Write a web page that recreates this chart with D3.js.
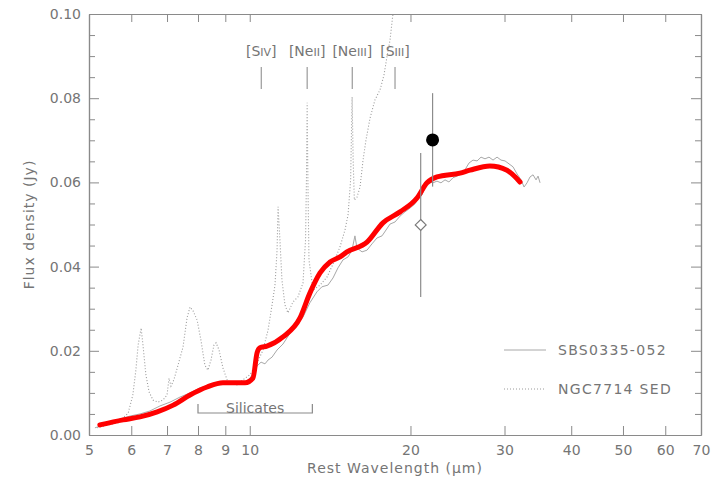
<!DOCTYPE html>
<html>
<head>
<meta charset="utf-8">
<script src="https://cdn.jsdelivr.net/npm/d3@7"></script>
<style>
  html, body { margin: 0; padding: 0; background: #fff; }
  svg { display: block; }
  text { font-family: "DejaVu Sans", sans-serif; fill: #757575; }
</style>
</head>
<body>
<svg id="chart" width="721" height="480"></svg>
<script>
// Rest-frame wavelength (µm) and flux density (Jy) samples

// SBS0335-052 IRS spectrum
const sbsWave = [5.13, 5.24, 5.47, 5.72, 5.97, 6.23, 6.50, 6.79, 7.09, 7.40, 7.73, 8.07, 8.42, 8.80, 9.18, 9.50, 9.80,
  10.01, 10.18, 10.32, 10.50, 10.68, 10.82, 11.01, 11.25, 11.54, 11.90, 12.21, 12.58, 12.96, 13.36, 13.65, 14.01,
  14.32, 14.63, 14.95, 15.28, 15.54, 15.74, 15.88, 16.23, 16.58, 16.94, 17.31, 17.69, 18.00, 18.31, 18.71, 19.12,
  19.53, 19.96, 20.39, 20.66, 21.02, 21.38, 21.66, 22.04, 22.42, 22.81, 23.21, 23.61, 24.02, 24.44, 24.87, 25.30,
  25.74, 26.19, 26.65, 27.11, 27.58, 28.06, 28.55, 29.05, 29.55, 30.07, 30.59, 31.12, 31.67, 32.22, 32.64, 33.06,
  33.49, 33.93, 34.37, 34.67, 34.97];
const sbsFlux = [0.0017, 0.0021, 0.0031, 0.0038, 0.0045, 0.0050, 0.0057, 0.0069, 0.0078, 0.0090, 0.0100, 0.0112, 0.0119, 0.0124, 0.0124, 0.0121, 0.0126,
  0.0135, 0.0150, 0.0164, 0.0173, 0.0169, 0.0178, 0.0185, 0.0202, 0.0216, 0.0242, 0.0259, 0.0280, 0.0314, 0.0340, 0.0352, 0.0356,
  0.0373, 0.0397, 0.0416, 0.0423, 0.0439, 0.0473, 0.0444, 0.0435, 0.0439, 0.0454, 0.0468, 0.0473, 0.0487, 0.0501, 0.0506, 0.0520,
  0.0530, 0.0539, 0.0549, 0.0561, 0.0570, 0.0596, 0.0603, 0.0599, 0.0603, 0.0599, 0.0606, 0.0601, 0.0611, 0.0615, 0.0620, 0.0630,
  0.0646, 0.0653, 0.0651, 0.0660, 0.0656, 0.0660, 0.0653, 0.0660, 0.0653, 0.0651, 0.0644, 0.0637, 0.0620, 0.0606, 0.0589, 0.0599,
  0.0613, 0.0618, 0.0606, 0.0615, 0.0599];

// NGC7714 template SED
const ngcWave = [5.18, 5.43, 5.67, 5.92, 6.04, 6.12, 6.18, 6.26, 6.31, 6.39, 6.48, 6.59, 6.73, 6.88, 7.00, 7.06, 7.12,
  7.21, 7.34, 7.50, 7.63, 7.73, 7.83, 7.97, 8.10, 8.24, 8.35, 8.46, 8.57, 8.65, 8.76, 8.91, 9.07, 9.22, 9.46, 9.71,
  10.01, 10.32, 10.59, 10.82, 11.01, 11.15, 11.25, 11.30, 11.39, 11.49, 11.64, 11.79, 12.05, 12.31, 12.58, 12.72,
  12.77, 12.81, 12.85, 12.91, 13.14, 13.54, 13.95, 14.38, 14.76, 15.08, 15.28, 15.45, 15.55, 15.62, 15.70, 15.88,
  16.09, 16.30, 16.51, 16.80, 17.16, 17.54, 17.84, 18.07, 18.31, 18.55, 18.79];
const ngcFlux = [0.0017, 0.0024, 0.0029, 0.0052, 0.0095, 0.0154, 0.0214, 0.0254, 0.0214, 0.0143, 0.0102, 0.0083, 0.0078, 0.0083, 0.0095, 0.0135, 0.0116,
  0.0131, 0.0166, 0.0209, 0.0278, 0.0304, 0.0295, 0.0273, 0.0226, 0.0166, 0.0154, 0.0178, 0.0214, 0.0219, 0.0202, 0.0159, 0.0131, 0.0121, 0.0119, 0.0131,
  0.0143, 0.0171, 0.0202, 0.0249, 0.0309, 0.0356, 0.0439, 0.0542, 0.0463, 0.0368, 0.0309, 0.0290, 0.0316, 0.0328, 0.0361, 0.0463,
  0.0606, 0.0789, 0.0606, 0.0416, 0.0344, 0.0356, 0.0375, 0.0411, 0.0447, 0.0487, 0.0523,
  0.0606, 0.0803, 0.0653, 0.0558, 0.0565,
  0.0589, 0.0653, 0.0701, 0.0753, 0.0796, 0.0820, 0.0855, 0.0898, 0.0938, 0.1002, 0.1057];

// Model fit to the SBS0335-052 spectrum
const fitWave = [5.24, 5.79, 6.23, 6.71, 7.19, 7.73, 8.32, 8.91, 9.80, 10.14, 10.32, 10.45, 10.77, 11.54, 12.42, 12.96,
  13.54, 14.14, 14.76, 15.21, 16.58, 17.76, 19.12, 20.57, 21.48, 22.42, 24.76, 25.85, 28.17, 30.32, 32.07];
const fitFlux = [0.0024, 0.0036, 0.0043, 0.0055, 0.0071, 0.0095, 0.0114, 0.0124, 0.0124, 0.0135, 0.0195, 0.0207, 0.0211, 0.0233, 0.0278, 0.0337,
  0.0385, 0.0411, 0.0423, 0.0435, 0.0458, 0.0504, 0.0530, 0.0563, 0.0599, 0.0613, 0.0622, 0.0629, 0.0639, 0.0629, 0.0601];

// Photometric points: [wavelength, flux, error]
const photFilled = [[22.0, 0.0701, 0.0111]];
const photOpen = [[20.9, 0.0499, 0.0171]];

// Fine-structure lines marked above the spectra
const lineNames = [["[S", "IV", "]"], ["[Ne", "II", "]"], ["[Ne", "III", "]"], ["[S", "III", "]"]];
const lineWave = [10.51, 12.81, 15.56, 18.71];

// Axis ticks
const xTicks = [5, 6, 7, 8, 9, 10, 20, 30, 40, 50, 60, 70];
const yTicks = [0, 0.02, 0.04, 0.06, 0.08, 0.10];
const yMinorTicks = [0.005, 0.01, 0.015, 0.025, 0.03, 0.035, 0.045, 0.05, 0.055, 0.065, 0.07, 0.075, 0.085, 0.09, 0.095];
const silicateRange = [8.0, 13.1];
const legendNames = ["SBS0335-052", "NGC7714 SED"];

const svg = d3.select("#chart");
const L = 89, R = 701, T = 14, B = 435;
const x = d3.scaleLog().domain([5, 70]).range([L, R]);
const y = d3.scaleLinear().domain([0, 0.10]).range([B, T]);

const frameColor = "#8a8a8a";
const textColor = "#767676";

svg.append("defs").append("clipPath").attr("id", "plotclip")
  .append("rect").attr("x", L).attr("y", T).attr("width", R - L).attr("height", B - T);

function styleAxis(g) {
  g.select(".domain").attr("stroke", frameColor).attr("stroke-width", 1.2);
  g.selectAll(".tick line").attr("stroke", frameColor).attr("stroke-width", 1);
  g.selectAll(".tick text").attr("fill", textColor).style("font-size", "14px")
    .style("font-family", '"DejaVu Sans", sans-serif');
}

// Bottom axis with labels
const gx = svg.append("g").attr("transform", `translate(0,${B})`)
  .call(d3.axisBottom(x).tickValues(xTicks).tickFormat(d3.format("d"))
    .tickSizeInner(-9).tickSizeOuter(0).tickPadding(10));
styleAxis(gx);
gx.selectAll(".tick text").filter(d => d === 10).attr("fill", "#3a3a3a");

// Top axis, ticks only
const gxt = svg.append("g").attr("transform", `translate(0,${T})`)
  .call(d3.axisTop(x).tickValues(xTicks).tickFormat("").tickSizeInner(-8).tickSizeOuter(0));
styleAxis(gxt);

// Left axis with labels and minor ticks
const gy = svg.append("g").attr("transform", `translate(${L},0)`)
  .call(d3.axisLeft(y).tickValues(yTicks).tickFormat(d3.format(".2f"))
    .tickSizeInner(-10).tickSizeOuter(0).tickPadding(8));
styleAxis(gy);
const gym = svg.append("g").attr("transform", `translate(${L},0)`)
  .call(d3.axisLeft(y).tickValues(yMinorTicks).tickFormat("").tickSizeInner(-6).tickSizeOuter(0));
styleAxis(gym);

// Right axis, ticks only
const gr = svg.append("g").attr("transform", `translate(${R},0)`)
  .call(d3.axisRight(y).tickValues(yTicks).tickFormat("").tickSizeInner(-10).tickSizeOuter(0));
styleAxis(gr);
const grm = svg.append("g").attr("transform", `translate(${R},0)`)
  .call(d3.axisRight(y).tickValues(yMinorTicks).tickFormat("").tickSizeInner(-6).tickSizeOuter(0));
styleAxis(grm);

// Axis titles
svg.append("text").attr("x", (L + R) / 2).attr("y", 473).attr("text-anchor", "middle")
  .style("font-size", "14px").style("letter-spacing", "1px").attr("fill", textColor)
  .text("Rest Wavelength (\u00b5m)");
svg.append("text").attr("transform", `translate(34,${(T + B) / 2}) rotate(-90)`)
  .attr("text-anchor", "middle").style("font-size", "14px").style("letter-spacing", "1px")
  .attr("fill", textColor).text("Flux density (Jy)");

const plot = svg.append("g").attr("clip-path", "url(#plotclip)");

// NGC7714 SED, dotted
const ngcData = ngcWave.map((w, i) => [w, ngcFlux[i]]);
plot.append("path").datum(ngcData)
  .attr("d", d3.line().x(d => x(d[0])).y(d => y(d[1])).curve(d3.curveLinear))
  .attr("fill", "none").attr("stroke", "#9a9a9a").attr("stroke-width", 1.1)
  .attr("stroke-dasharray", "1,2");

// SBS0335-052 spectrum, thin solid
const sbsData = sbsWave.map((w, i) => [w, sbsFlux[i]]);
plot.append("path").datum(sbsData)
  .attr("d", d3.line().x(d => x(d[0])).y(d => y(d[1])))
  .attr("fill", "none").attr("stroke", "#a8a8a8").attr("stroke-width", 1);

// Model fit, thick red
const fitData = fitWave.map((w, i) => [w, fitFlux[i]]);
plot.append("path").datum(fitData)
  .attr("d", d3.line().x(d => x(d[0])).y(d => y(d[1])).curve(d3.curveMonotoneX))
  .attr("fill", "none").attr("stroke", "#ff0000").attr("stroke-width", 5)
  .attr("stroke-linecap", "round").attr("stroke-linejoin", "round");

// Photometry with error bars
const errColor = "#8c8c8c";
photOpen.forEach(([w, f, e]) => {
  svg.append("line").attr("x1", x(w)).attr("x2", x(w)).attr("y1", y(f + e)).attr("y2", y(f - e))
    .attr("stroke", errColor).attr("stroke-width", 1.2);
  svg.append("path")
    .attr("d", d3.symbol().type(d3.symbolDiamond2).size(75)())
    .attr("transform", `translate(${x(w)},${y(f)})`)
    .attr("fill", "#fff").attr("stroke", "#7a7a7a").attr("stroke-width", 1.2);
});
photFilled.forEach(([w, f, e]) => {
  svg.append("line").attr("x1", x(w)).attr("x2", x(w)).attr("y1", y(f + e)).attr("y2", y(f - e))
    .attr("stroke", errColor).attr("stroke-width", 1.2);
  svg.append("circle").attr("cx", x(w)).attr("cy", y(f)).attr("r", 6.5).attr("fill", "#000");
});

// Emission line markers
lineWave.forEach((w, i) => {
  svg.append("line").attr("x1", x(w)).attr("x2", x(w)).attr("y1", 67).attr("y2", 89)
    .attr("stroke", "#9a9a9a").attr("stroke-width", 1.2);
  const [a, b, c] = lineNames[i];
  const t = svg.append("text").attr("x", x(w)).attr("y", 56).attr("text-anchor", "middle")
    .style("font-size", "14px").attr("fill", textColor);
  t.append("tspan").text(a);
  t.append("tspan").style("font-size", "11px").text(b);
  t.append("tspan").text(c);
});

// Silicate feature bracket
const sx0 = x(silicateRange[0]), sx1 = x(silicateRange[1]);
svg.append("path")
  .attr("d", `M${sx0},404 V413 H${sx1} V404`)
  .attr("fill", "none").attr("stroke", "#8a8a8a").attr("stroke-width", 1.2);
svg.append("text").attr("x", (sx0 + sx1) / 2).attr("y", 413).attr("text-anchor", "middle")
  .style("font-size", "14px").attr("fill", textColor).text("Silicates");

// Legend
const leg = svg.append("g");
[350, 389].forEach((ly, i) => {
  leg.append("line").attr("x1", 504).attr("x2", 546).attr("y1", ly).attr("y2", ly)
    .attr("stroke", i === 0 ? "#a8a8a8" : "#9a9a9a").attr("stroke-width", 1)
    .attr("stroke-dasharray", i === 0 ? null : "1,2");
  leg.append("text").attr("x", 558).attr("y", ly + 5).style("font-size", "14px")
    .style("letter-spacing", "1.3px").attr("fill", textColor).text(legendNames[i]);
});
</script>
</body>
</html>
